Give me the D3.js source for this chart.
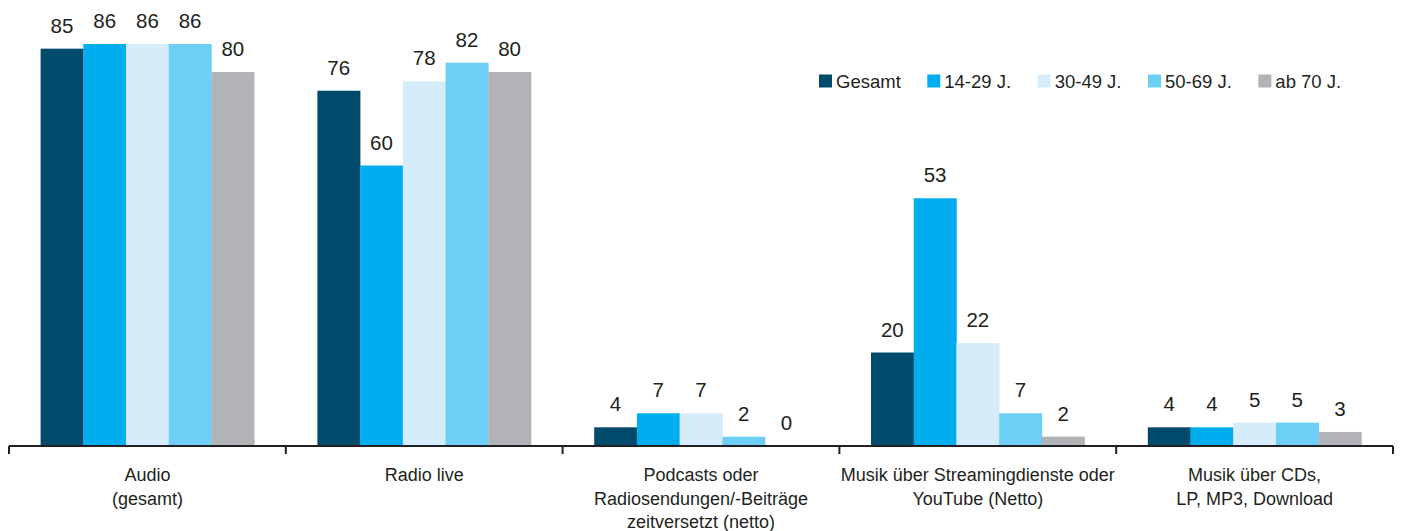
<!DOCTYPE html>
<html><head><meta charset="utf-8">
<script src="https://cdn.jsdelivr.net/npm/d3@7"></script>
<style>
body{margin:0;background:#fff;}
svg{display:block;font-family:"Liberation Sans Narrow","Arial Narrow",sans-serif;}
</style></head>
<body><svg id="c" width="1402" height="531"></svg>
<script>
const categories = [["Audio","(gesamt)"],["Radio live"],["Podcasts oder","Radiosendungen/-Beiträge","zeitversetzt (netto)"],["Musik über Streamingdienste oder","YouTube (Netto)"],["Musik über CDs,","LP, MP3, Download"]];
const seriesNames = ["Gesamt","14-29 J.","30-49 J.","50-69 J.","ab 70 J."];
const gesamt = [85,76,4,20,4];
const j14_29 = [86,60,7,53,4];
const j30_49 = [86,78,7,22,5];
const j50_69 = [86,82,2,7,5];
const ab70 = [80,80,0,2,3];
const colors = ["#004b6b","#00aeef","#d5ecfa","#6dcff6","#b1b3b6"];

const series = [gesamt,j14_29,j30_49,j50_69,ab70];
const svg = d3.select("#c");
const baseY = 446;
const x0 = d3.scaleBand().domain(d3.range(categories.length)).range([9,1393]).padding(0);
const bw = x0.bandwidth();
const x1 = d3.scaleBand().domain(d3.range(series.length)).range([31.6, bw-31.6]).padding(0);
const y = d3.scaleLinear().domain([0,86]).range([baseY, 44]);

const g = svg.append("g");
categories.forEach((c,ci)=>{
  series.forEach((s,si)=>{
    const v = s[ci];
    g.append("rect").attr("x",x0(ci)+x1(si)).attr("width",x1.bandwidth()+0.3)
      .attr("y",y(v)).attr("height",baseY-y(v)).attr("fill",colors[si]);
    g.append("text").attr("x",x0(ci)+x1(si)+x1.bandwidth()/2).attr("y",y(v)-16)
      .attr("text-anchor","middle").attr("font-size",20.5).attr("fill","#231f20").text(v);
  });
});

// axis
const axis = d3.axisBottom(x0).tickSize(0).tickFormat("");
const ax = svg.append("g").attr("transform",`translate(0,${baseY})`).call(axis);
ax.select(".domain").attr("stroke","#231f20").attr("stroke-width",2).attr("d",`M${9},0H${1393}`);
const edges = d3.range(categories.length+1).map(i=> i<categories.length ? x0(i) : x0(categories.length-1)+bw);
svg.selectAll("line.tk").data(edges).join("line").attr("class","tk")
  .attr("x1",d=>d).attr("x2",d=>d).attr("y1",baseY).attr("y2",baseY+8)
  .attr("stroke","#231f20").attr("stroke-width",2);

categories.forEach((lines,ci)=>{
  const t = svg.append("text").attr("text-anchor","middle").attr("font-size",18).attr("fill","#231f20");
  lines.forEach((l,li)=>{
    t.append("tspan").attr("x",x0(ci)+bw/2).attr("y",481+li*23.5).text(l);
  });
});

// legend
let lx = 819;
const leg = svg.append("g");
seriesNames.forEach((n,i)=>{
  leg.append("rect").attr("x",lx).attr("y",74.5).attr("width",13).attr("height",13).attr("fill",colors[i]);
  const t = leg.append("text").attr("x",lx+17).attr("y",88).attr("font-size",18.5).attr("fill","#231f20").text(n);
  const w = t.node().getComputedTextLength();
  lx += 17 + w + 26.5;
});
</script></body></html>
